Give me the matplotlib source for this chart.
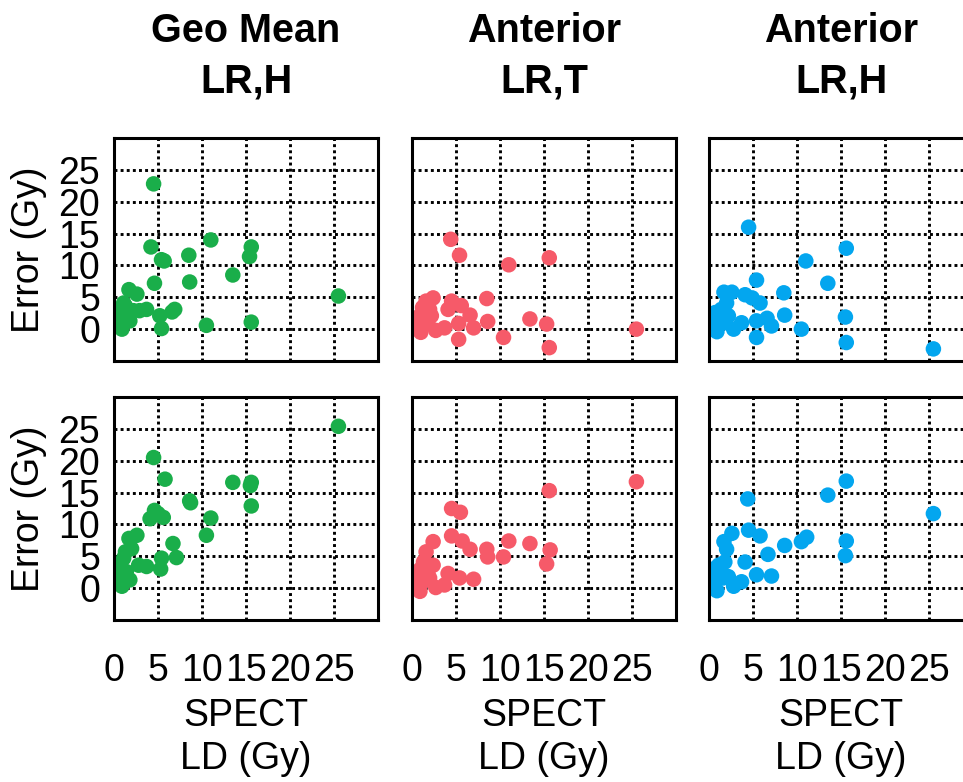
import matplotlib
matplotlib.use("Agg")
import matplotlib.pyplot as plt

plt.rcParams['font.family'] = ['Liberation Sans', 'DejaVu Sans']

titles = ["Geo Mean\nLR,H", "Anterior\nLR,T", "Anterior\nLR,H"]
colors = ["#1aae4a", "#f65a69", "#03a6ef"]
tick_vals = [0, 5, 10, 15, 20, 25]

# top row
top_geo_x = [4.5, 4.2, 5.7, 5.4, 8.5, 11.0, 15.6, 15.4, 13.5, 8.6, 4.6, 25.5, 1.7, 2.6, 3.7,
             6.9, 6.6, 5.2, 5.4, 10.5, 15.6, 1.1, 0.7, 1.4, 0.5, 0.9, 1.8, 2.2, 2.9, 1.3, 0.4, 1.0]
top_geo_y = [22.8, 12.9, 10.7, 10.9, 11.6, 14.0, 12.9, 11.4, 8.5, 7.4, 7.2, 5.2, 6.2, 5.5, 3.1,
             3.1, 2.7, 2.1, 0.1, 0.6, 1.1, 4.1, 2.9, 2.1, 0.8, 0.0, 1.3, 2.9, 2.9, 3.6, 1.6, 1.2]

top_antt_x = [4.4, 5.4, 11.0, 15.6, 8.5, 8.6, 13.4, 15.3, 15.6, 10.4, 5.3, 25.5, 7.0, 6.6, 5.6,
              4.5, 4.1, 5.3, 3.7, 2.7, 2.4, 1.6, 2.0, 0.9, 0.3, 1.0, 1.8, 2.2, 1.2, 0.6]
top_antt_y = [14.1, 11.6, 10.1, 11.2, 4.8, 1.2, 1.6, 0.8, -2.9, -1.3, -1.6, 0.0, 0.2, 2.2, 3.7,
              4.4, 3.1, 0.9, 0.2, -0.2, 4.9, 4.4, 3.1, 2.1, 0.1, -0.5, 1.0, 2.1, 3.4, 1.3]

top_anth_x = [4.5, 15.6, 11.0, 13.5, 5.4, 8.5, 5.8, 4.9, 4.1, 2.6, 1.7, 2.0, 8.6, 7.1, 6.6,
              5.4, 5.4, 10.5, 15.5, 15.6, 25.5, 3.7, 2.8, 0.7, 1.1, 1.8, 0.3, 0.9, 1.4, 2.2, 0.6]
top_anth_y = [16.0, 12.7, 10.7, 7.2, 7.7, 5.7, 4.1, 4.9, 5.4, 5.8, 5.8, 4.1, 2.2, 0.5, 1.7,
              1.3, -1.3, 0.0, 1.9, -2.1, -3.1, 1.0, 0.0, 2.6, 1.6, 1.0, 0.0, -0.4, 3.1, 2.1, 1.2]

# bottom row
bot_geo_x = [25.5, 4.5, 5.8, 13.5, 15.6, 15.5, 15.6, 8.6, 8.7, 11.0, 10.5, 4.6, 4.1, 5.6, 5.0,
             2.6, 1.7, 2.0, 6.7, 7.1, 5.4, 5.3, 3.7, 2.8, 1.1, 0.7, 1.8, 0.5, 0.9, 1.4, 1.3, 0.6]
bot_geo_y = [25.4, 20.5, 17.1, 16.6, 16.6, 16.1, 12.9, 13.7, 13.4, 11.0, 8.3, 12.2, 10.9, 11.1, 11.7,
             8.3, 7.8, 6.2, 7.0, 4.8, 4.7, 3.0, 3.4, 3.6, 4.7, 3.6, 1.3, 1.3, 0.3, 2.6, 5.7, 2.2]

bot_antt_x = [25.5, 15.6, 4.5, 5.5, 4.5, 5.7, 6.6, 8.5, 8.6, 11.0, 10.4, 13.4, 15.7, 15.3, 2.4,
              1.6, 1.3, 0.9, 0.3, 0.9, 2.7, 3.7, 4.1, 5.4, 7.0, 2.0, 2.4, 1.8, 0.5, 1.2]
bot_antt_y = [16.7, 15.3, 12.5, 11.9, 8.2, 7.4, 6.1, 6.1, 4.9, 7.4, 4.9, 7.0, 6.0, 3.8, 7.3,
              5.7, 4.1, 2.9, 0.3, -0.5, 0.1, 0.5, 2.3, 1.6, 1.4, 1.6, 3.6, 2.6, 1.8, 1.0]

bot_anth_x = [15.6, 13.5, 4.4, 25.5, 4.5, 5.8, 11.1, 10.5, 8.6, 15.6, 15.5, 6.7, 4.1, 2.6, 1.7,
              2.0, 5.4, 7.1, 3.7, 2.8, 0.9, 0.3, 1.1, 1.8, 0.7, 1.6, 1.3, 2.2, 0.5, 0.4]
bot_anth_y = [16.8, 14.6, 14.0, 11.7, 9.1, 8.2, 8.0, 7.3, 6.7, 7.4, 5.1, 5.3, 4.1, 8.6, 7.3,
              6.1, 2.1, 1.9, 1.0, 0.3, -0.4, 0.3, 3.6, 4.1, 2.1, 1.6, 2.9, 1.8, 3.0, 1.2]

rows = [
    [(top_geo_x, top_geo_y), (top_antt_x, top_antt_y), (top_anth_x, top_anth_y)],
    [(bot_geo_x, bot_geo_y), (bot_antt_x, bot_antt_y), (bot_anth_x, bot_anth_y)],
]

fig = plt.figure(figsize=(9.63, 7.82), dpi=100)

lefts = [114, 412, 709]
tops = [138, 397]
w_px, h_px = 264, 223
W, H = 963, 782

for r, row in enumerate(rows):
    for c, (xs, ys) in enumerate(row):
        ax = fig.add_axes([lefts[c] / W, 1 - (tops[r] + h_px) / H, w_px / W, h_px / H])
        ax.scatter(xs, ys, s=125, color=colors[c], edgecolors='none', zorder=3)
        ax.set_xlim(0, 30)
        ax.set_ylim(-5, 30)
        ax.set_xticks(tick_vals)
        ax.set_yticks(tick_vals)
        # matlab-ish dotted grid
        ax.grid(True, color='black', linestyle=(0, (1, 1.1)), linewidth=2.1)
        ax.set_axisbelow(True)
        for sp in ax.spines.values():
            sp.set_linewidth(2.2)
            sp.set_zorder(4)
        ax.tick_params(length=0, labelsize=27)
        ax.tick_params(axis='x', pad=24)
        ax.tick_params(axis='y', pad=10)

        if c == 0:
            ax.set_ylabel("Error (Gy)", fontsize=27, labelpad=8)
        else:
            ax.set_yticklabels([])
        if r == 1:
            ax.set_xlabel("SPECT\nLD (Gy)", fontsize=27, labelpad=6, linespacing=1.25)
        else:
            ax.set_xticklabels([])
        if r == 0:
            ax.set_title(titles[c], fontsize=28.5, fontweight='bold', pad=33, linespacing=1.4)

fig.savefig("out.png", dpi=100)
